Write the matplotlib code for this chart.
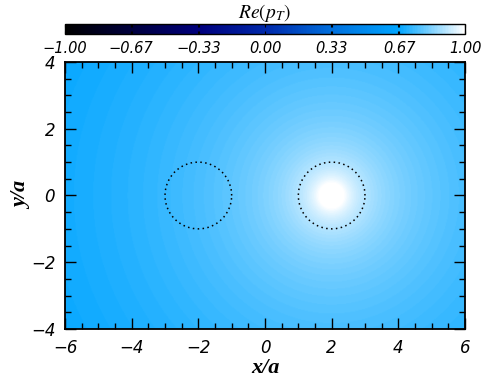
import numpy as np
import matplotlib.pyplot as plt
from matplotlib.colors import LinearSegmentedColormap
from matplotlib.ticker import MultipleLocator

plt.rcParams['mathtext.fontset'] = 'stix'
plt.rcParams['axes.unicode_minus'] = True

# colour table: value nodes and rgb
cmap_nodes = [-1.0, -0.33, 0.0, 0.33, 0.67, 1.0]
cmap_rgb = [(0, 0, 0), (0, 0, 125), (0, 40, 170), (0, 110, 220), (0, 165, 255), (255, 255, 255)]

# scatterers (dotted circles) and source position
circle_x = [-2.0, 2.0]
circle_y = [0.0, 0.0]
circle_r = [1.0, 1.0]
src_x, src_y = 2.0, 0.0
p_offset = 0.90
p_slope = 0.10

cbar_ticks = [-1.0, -0.67, -0.33, 0.0, 0.33, 0.67, 1.0]

nodes = [(v + 1) / 2 for v in cmap_nodes]
cols = [tuple(c / 255 for c in rgb) for rgb in cmap_rgb]
cmap = LinearSegmentedColormap.from_list('pt', list(zip(nodes, cols)))

x = np.linspace(-6, 6, 481)
y = np.linspace(-4, 4, 321)
X, Y = np.meshgrid(x, y)
r = np.hypot(X - src_x, Y - src_y)
r = np.maximum(r, 1e-3)
p = p_offset - p_slope * np.log(r)

fig = plt.figure(figsize=(4.82, 3.81), dpi=100)
ax = fig.add_axes([65/482, 1 - 329/381, 400/482, 267/381])
im = ax.imshow(p, extent=[-6, 6, -4, 4], origin='lower', cmap=cmap,
               vmin=-1, vmax=1, interpolation='bilinear', aspect='auto')

t = np.linspace(0, 2*np.pi, 200)
for cx, cy, cr in zip(circle_x, circle_y, circle_r):
    ax.plot(cx + cr*np.cos(t), cy + cr*np.sin(t), color='k', ls=(0, (1, 2.2)), lw=1.1)

ax.set_xlim(-6, 6)
ax.set_ylim(-4, 4)
ax.xaxis.set_major_locator(MultipleLocator(2))
ax.yaxis.set_major_locator(MultipleLocator(2))
ax.xaxis.set_minor_locator(MultipleLocator(0.5))
ax.yaxis.set_minor_locator(MultipleLocator(0.5))
ax.tick_params(which='both', direction='in', top=True, right=True, width=1)
ax.tick_params(which='major', length=8)
ax.tick_params(which='minor', length=4)
ax.tick_params(axis='both', labelsize=12, pad=7)
for lab in ax.get_xticklabels() + ax.get_yticklabels():
    lab.set_fontstyle('italic')
for s in ax.spines.values():
    s.set_linewidth(1.3)

lab_font = dict(family='Liberation Serif', style='italic', weight='bold', fontsize=16)
ax.set_xlabel('x/a', va='center', **lab_font)
ax.set_ylabel('y/a', va='center', **lab_font)
ax.xaxis.set_label_coords(0.5, -0.147)
ax.yaxis.set_label_coords(-0.108, 0.5)

cax = fig.add_axes([65/482, 1 - 34/381, 400/482, 10/381])
cb = fig.colorbar(im, cax=cax, orientation='horizontal', ticks=cbar_ticks)
cb.ax.set_xticklabels([('%.2f' % v).replace('-', '\u2212') for v in cbar_ticks],
                      fontsize=10.5, style='italic')
cb.ax.xaxis.set_minor_locator(MultipleLocator(1/3))
cb.ax.tick_params(which='both', direction='in', length=2, width=0.8, pad=5, top=True)
cb.outline.set_linewidth(1.0)
cb.ax.set_title(r'$Re(p_T)$', fontsize=14, pad=3)

fig.savefig('out.png', dpi=100)
